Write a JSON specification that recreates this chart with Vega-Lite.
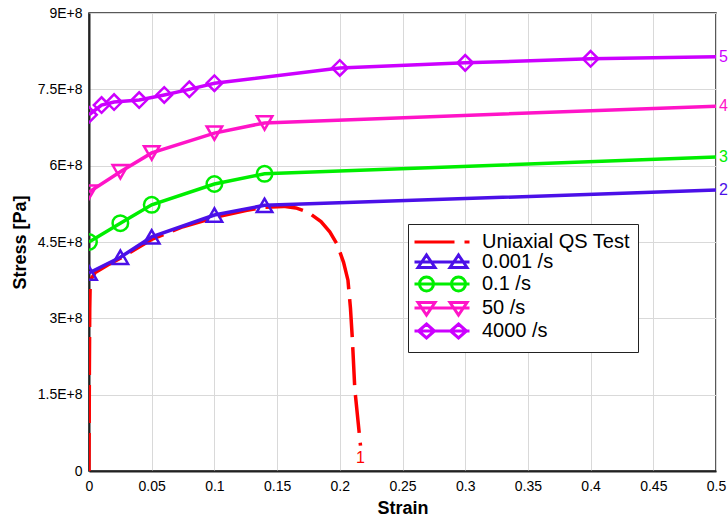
{
  "$schema": "https://vega.github.io/schema/vega-lite/v6.json",
  "width": 627,
  "height": 458,
  "autosize": {"type": "none"},
  "padding": {"left": 89, "top": 13, "right": 12, "bottom": 50},
  "config": {
    "font": "Liberation Sans",
    "view": {"stroke": "#222222", "strokeWidth": 1.5},
    "axis": {
      "ticks": false,
      "domainColor": "#222222",
      "domainWidth": 2,
      "gridColor": "#d9d9d9",
      "gridWidth": 1,
      "labelColor": "#000000",
      "labelFontSize": 14,
      "titleColor": "#000000",
      "titleFontSize": 18,
      "titleFontWeight": "bold"
    }
  },
  "datasets": {
    "red": [
      {"strain": 0, "stress": 0},
      {"strain": 0.0003, "stress": 200000000},
      {"strain": 0.0006, "stress": 320000000},
      {"strain": 0.001, "stress": 375000000},
      {"strain": 0.005, "stress": 390000000},
      {"strain": 0.015, "stress": 405000000},
      {"strain": 0.025, "stress": 418000000},
      {"strain": 0.05, "stress": 455000000},
      {"strain": 0.075, "stress": 480000000},
      {"strain": 0.1, "stress": 498000000},
      {"strain": 0.125, "stress": 512000000},
      {"strain": 0.14, "stress": 518000000},
      {"strain": 0.155, "stress": 520000000},
      {"strain": 0.165, "stress": 517000000},
      {"strain": 0.175, "stress": 508000000},
      {"strain": 0.185, "stress": 490000000},
      {"strain": 0.192, "stress": 470000000},
      {"strain": 0.198, "stress": 445000000},
      {"strain": 0.203, "stress": 410000000},
      {"strain": 0.2065, "stress": 375000000},
      {"strain": 0.2085, "stress": 320000000},
      {"strain": 0.21, "stress": 260000000},
      {"strain": 0.212, "stress": 160000000},
      {"strain": 0.2165, "stress": 50000000}
    ],
    "curves": [
      {"series": "0.001 /s", "strain": 0, "stress": 389000000, "marked": true},
      {"series": "0.001 /s", "strain": 0.025, "stress": 420000000, "marked": true},
      {"series": "0.001 /s", "strain": 0.05, "stress": 460000000, "marked": true},
      {"series": "0.001 /s", "strain": 0.1, "stress": 503000000, "marked": true},
      {"series": "0.001 /s", "strain": 0.14, "stress": 522000000, "marked": true},
      {"series": "0.001 /s", "strain": 0.5, "stress": 552000000, "marked": false},
      {"series": "0.1 /s", "strain": 0, "stress": 450000000, "marked": true},
      {"series": "0.1 /s", "strain": 0.025, "stress": 487000000, "marked": true},
      {"series": "0.1 /s", "strain": 0.05, "stress": 523000000, "marked": true},
      {"series": "0.1 /s", "strain": 0.1, "stress": 564000000, "marked": true},
      {"series": "0.1 /s", "strain": 0.14, "stress": 584000000, "marked": true},
      {"series": "0.1 /s", "strain": 0.5, "stress": 617000000, "marked": false},
      {"series": "50 /s", "strain": 0, "stress": 548000000, "marked": true},
      {"series": "50 /s", "strain": 0.025, "stress": 588000000, "marked": true},
      {"series": "50 /s", "strain": 0.05, "stress": 625000000, "marked": true},
      {"series": "50 /s", "strain": 0.1, "stress": 664000000, "marked": true},
      {"series": "50 /s", "strain": 0.14, "stress": 684000000, "marked": true},
      {"series": "50 /s", "strain": 0.5, "stress": 717000000, "marked": false},
      {"series": "4000 /s", "strain": 0, "stress": 700000000, "marked": true},
      {"series": "4000 /s", "strain": 0.01, "stress": 719000000, "marked": true},
      {"series": "4000 /s", "strain": 0.02, "stress": 725000000, "marked": true},
      {"series": "4000 /s", "strain": 0.04, "stress": 729000000, "marked": true},
      {"series": "4000 /s", "strain": 0.06, "stress": 739000000, "marked": true},
      {"series": "4000 /s", "strain": 0.08, "stress": 750000000, "marked": true},
      {"series": "4000 /s", "strain": 0.1, "stress": 762000000, "marked": true},
      {"series": "4000 /s", "strain": 0.2, "stress": 792000000, "marked": true},
      {"series": "4000 /s", "strain": 0.3, "stress": 802000000, "marked": true},
      {"series": "4000 /s", "strain": 0.4, "stress": 810000000, "marked": true},
      {"series": "4000 /s", "strain": 0.5, "stress": 814000000, "marked": false}
    ],
    "endlabels": [
      {"series": "0.001 /s", "label": "2", "strain": 0.5, "stress": 552000000},
      {"series": "0.1 /s", "label": "3", "strain": 0.5, "stress": 617000000},
      {"series": "50 /s", "label": "4", "strain": 0.5, "stress": 717000000},
      {"series": "4000 /s", "label": "5", "strain": 0.5, "stress": 814000000}
    ],
    "redlabel": [
      {"label": "1", "strain": 0.2165, "stress": 25000000}
    ],
    "legendrows": [
      {"series": "Uniaxial QS Test"},
      {"series": "0.001 /s"},
      {"series": "0.1 /s"},
      {"series": "50 /s"},
      {"series": "4000 /s"}
    ]
  },
  "encoding": {
    "x": {
      "field": "strain",
      "type": "quantitative",
      "scale": {"domain": [0, 0.5], "nice": false, "zero": false},
      "axis": {
        "title": "Strain",
        "values": [0, 0.05, 0.1, 0.15, 0.2, 0.25, 0.3, 0.35, 0.4, 0.45, 0.5],
        "labelExpr": "format(datum.value, '.2~f')",
        "labelPadding": 8,
        "titlePadding": 6,
        "labelFlush": false
      }
    },
    "y": {
      "field": "stress",
      "type": "quantitative",
      "scale": {"domain": [0, 900000000], "nice": false},
      "axis": {
        "title": "Stress [Pa]",
        "values": [0, 150000000, 300000000, 450000000, 600000000, 750000000, 900000000],
        "labelExpr": "datum.value == 0 ? '0' : format(datum.value / 100000000, '~g') + 'E+8'",
        "labelPadding": 7,
        "titlePadding": 8,
        "labelFlush": false
      }
    }
  },
  "layer": [
    {
      "data": {"name": "red"},
      "mark": {"type": "line", "color": "#ff0000", "strokeWidth": 3.5, "strokeDash": [38, 10], "clip": true},
      "encoding": {}
    },
    {
      "data": {"name": "curves"},
      "mark": {"type": "line", "strokeWidth": 3.5, "clip": true},
      "encoding": {
        "color": {
          "field": "series",
          "type": "nominal",
          "scale": {"domain": ["Uniaxial QS Test", "0.001 /s", "0.1 /s", "50 /s", "4000 /s"], "range": ["#ff0000", "#4b10e8", "#00ee00", "#ff14c8", "#cc00ff"]},
          "legend": null
        }
      }
    },
    {
      "data": {"name": "curves"},
      "transform": [{"filter": "datum.marked"}],
      "mark": {"type": "point", "filled": false, "strokeWidth": 2.5, "size": 240, "opacity": 1, "clip": true},
      "encoding": {
        "color": {
          "field": "series",
          "type": "nominal",
          "scale": {"domain": ["Uniaxial QS Test", "0.001 /s", "0.1 /s", "50 /s", "4000 /s"], "range": ["#ff0000", "#4b10e8", "#00ee00", "#ff14c8", "#cc00ff"]},
          "legend": null
        },
        "shape": {
          "field": "series",
          "type": "nominal",
          "scale": {"domain": ["0.001 /s", "0.1 /s", "50 /s", "4000 /s"], "range": ["triangle-up", "circle", "triangle-down", "diamond"]},
          "legend": null
        }
      }
    },
    {
      "data": {"name": "endlabels"},
      "mark": {"type": "text", "align": "left", "baseline": "middle", "dx": 3, "fontSize": 16},
      "encoding": {
        "text": {"field": "label"},
        "color": {
          "field": "series",
          "type": "nominal",
          "scale": {"domain": ["Uniaxial QS Test", "0.001 /s", "0.1 /s", "50 /s", "4000 /s"], "range": ["#ff0000", "#4b10e8", "#00ee00", "#ff14c8", "#cc00ff"]},
          "legend": null
        }
      }
    },
    {
      "data": {"name": "redlabel"},
      "mark": {"type": "text", "align": "center", "baseline": "middle", "fontSize": 16, "color": "#ff0000"},
      "encoding": {"text": {"field": "label"}}
    },
    {
      "data": {"name": "legendrows"},
      "mark": {"type": "point", "filled": false, "opacity": 0, "strokeWidth": 3},
      "encoding": {
        "x": {"datum": 0.3},
        "y": {"datum": 300000000},
        "color": {
          "field": "series",
          "type": "nominal",
          "scale": {"domain": ["Uniaxial QS Test", "0.001 /s", "0.1 /s", "50 /s", "4000 /s"], "range": ["#ff0000", "#4b10e8", "#00ee00", "#ff14c8", "#cc00ff"]},
          "legend": {
            "orient": "none", "legendX": 319, "legendY": 211, "title": null,
            "symbolSize": 100, "symbolStrokeWidth": 3, "symbolOpacity": 1,
            "labelOffset": 46, "labelFontSize": 20, "labelColor": "#000000", "labelLimit": 300,
            "strokeColor": "#222222", "fillColor": "#ffffff", "padding": 8, "rowPadding": -6.5
          }
        },
        "shape": {
          "field": "series",
          "type": "nominal",
          "scale": {
            "domain": ["Uniaxial QS Test", "0.001 /s", "0.1 /s", "50 /s", "4000 /s"],
            "range": [
              "M-2.3,0L5.7,0M7.7,0L8.7,0",
              "M-2.3,0L8.7,0M-1.6,1.1L0.1,-1.4L1.8,1.1ZM4.8,1.1L6.5,-1.4L8.2,1.1Z",
              "M-2.3,0L8.7,0M-1.3,0A1.4,1.4 0 1,0 1.5,0A1.4,1.4 0 1,0 -1.3,0ZM5.1,0A1.4,1.4 0 1,0 7.9,0A1.4,1.4 0 1,0 5.1,0Z",
              "M-2.3,0L8.7,0M-1.6,-1.1L0.1,1.4L1.8,-1.1ZM4.8,-1.1L6.5,1.4L8.2,-1.1Z",
              "M-2.3,0L8.7,0M0.1,-1.4L1.7,0L0.1,1.4L-1.5,0ZM6.5,-1.4L8.1,0L6.5,1.4L4.9,0Z"
            ]
          },
          "legend": {
            "orient": "none", "legendX": 319, "legendY": 211, "title": null,
            "symbolSize": 100, "symbolStrokeWidth": 3, "symbolOpacity": 1,
            "labelOffset": 46, "labelFontSize": 20, "labelColor": "#000000", "labelLimit": 300,
            "strokeColor": "#222222", "fillColor": "#ffffff", "padding": 8, "rowPadding": -6.5
          }
        }
      }
    }
  ],
  "resolve": {"scale": {"color": "independent", "shape": "independent"}}
}
